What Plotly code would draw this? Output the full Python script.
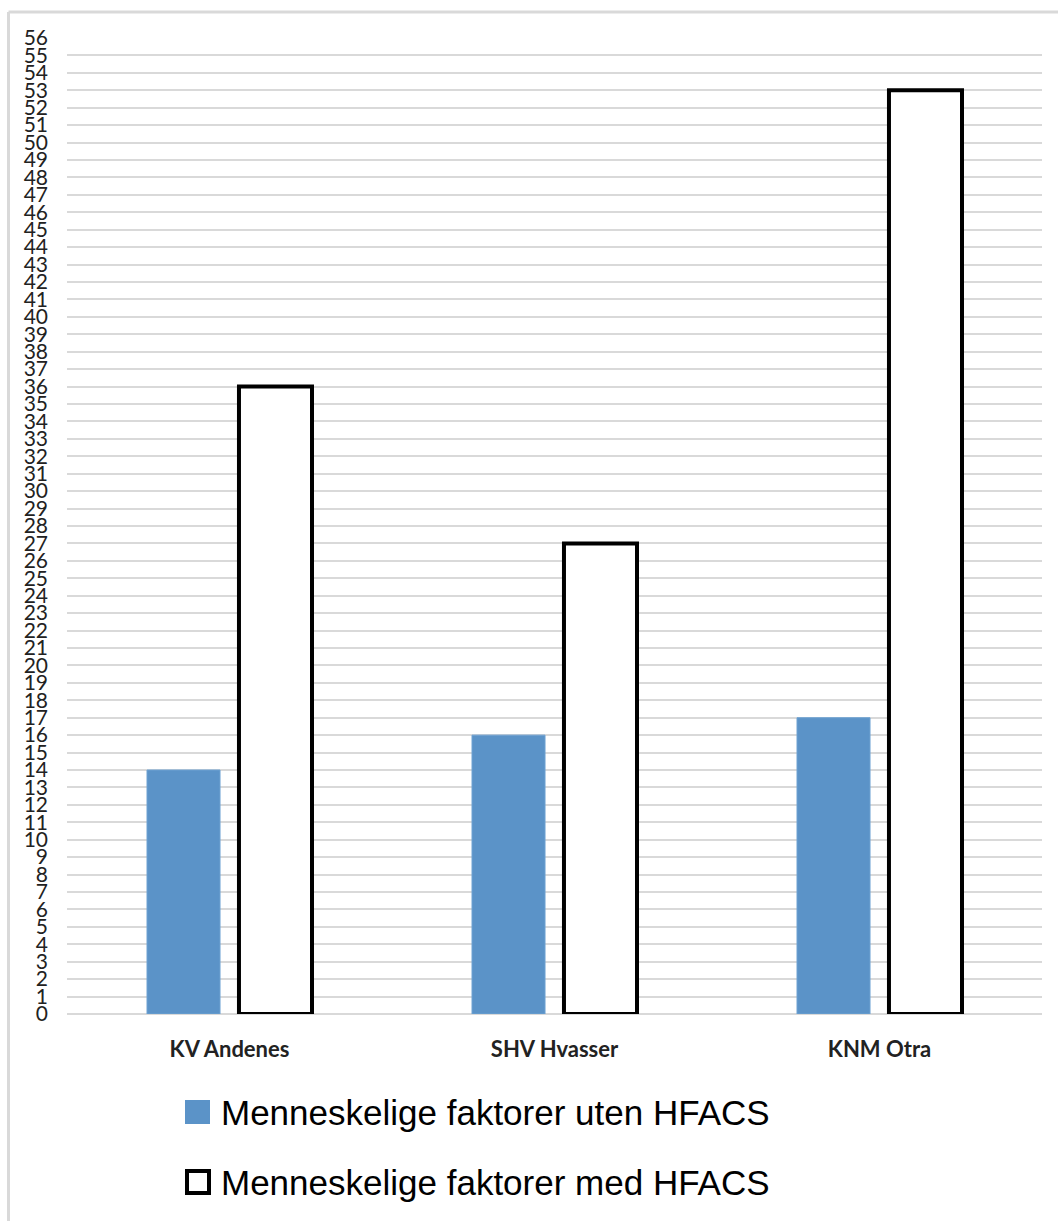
import plotly.graph_objects as go

# Data
vessels = ["KV Andenes", "SHV Hvasser", "KNM Otra"]
series_names = ["Menneskelige faktorer uten HFACS", "Menneskelige faktorer med HFACS"]
uten_hfacs = [14, 16, 17]
med_hfacs = [36, 27, 53]
y_ticks = list(range(0, 57))

W, H = 1058, 1221
L, R, T, B = 67, 16, 38, 207
plot_w = W - L - R
plot_h = H - T - B


def px_x(px):
    return (px - L) / plot_w


def px_y(py):
    return (H - B - py) / plot_h


blue = "#5b93c8"

fig = go.Figure()
fig.add_trace(go.Bar(
    x=vessels, y=uten_hfacs, name=series_names[0],
    marker=dict(color=blue, line=dict(color="#6fa2d2", width=1)),
    showlegend=False,
))
fig.add_trace(go.Bar(
    x=vessels, y=med_hfacs, name=series_names[1],
    marker=dict(color="white", line=dict(color="black", width=4)),
    showlegend=False,
))

# Outer frame (left and top edges)
frame = dict(type="line", xref="paper", yref="paper",
             line=dict(color="#d9d9d9", width=3), layer="below")
fig.add_shape(x0=px_x(8.5), x1=px_x(8.5), y0=px_y(12), y1=px_y(H), **frame)
fig.add_shape(x0=px_x(8.5), x1=px_x(W), y0=px_y(12), y1=px_y(12), **frame)

# Legend drawn as swatches plus text
legend_rows = [1112, 1182]
fig.add_shape(type="rect", xref="paper", yref="paper",
              x0=px_x(185), x1=px_x(210), y0=px_y(legend_rows[0] + 12), y1=px_y(legend_rows[0] - 12),
              fillcolor=blue, line=dict(width=0))
fig.add_shape(type="rect", xref="paper", yref="paper",
              x0=px_x(187), x1=px_x(209), y0=px_y(legend_rows[1] + 11), y1=px_y(legend_rows[1] - 11),
              fillcolor="white", line=dict(color="black", width=4))
for name, row in zip(series_names, legend_rows):
    fig.add_annotation(
        x=px_x(219), y=px_y(row), xref="paper", yref="paper",
        text=name, showarrow=False, xanchor="left", yanchor="middle",
        font=dict(family="Liberation Sans, Arial", size=35, color="black"),
    )

fig.update_layout(
    width=W, height=H,
    margin=dict(l=L, r=R, t=T, b=B),
    paper_bgcolor="white", plot_bgcolor="white",
    barmode="group", bargap=0.434, bargroupgap=0.206,
    font=dict(family="Lato", color="#222222"),
)
fig.update_xaxes(
    showgrid=False, showline=False, ticks="",
    tickfont=dict(family="Lato", size=22, color="#222222", weight="bold"),
    ticklabelstandoff=20,
)
fig.update_yaxes(
    range=[0, 56], tickvals=y_ticks, ticktext=[str(v) for v in y_ticks],
    showgrid=True, gridcolor="#d9d9d9", gridwidth=2,
    zeroline=True, zerolinecolor="#d9d9d9", zerolinewidth=2,
    showline=False, ticks="",
    tickfont=dict(family="Lato", size=21, color="#222222"),
    ticklabelstandoff=18,
)

fig.write_html("out.html")
